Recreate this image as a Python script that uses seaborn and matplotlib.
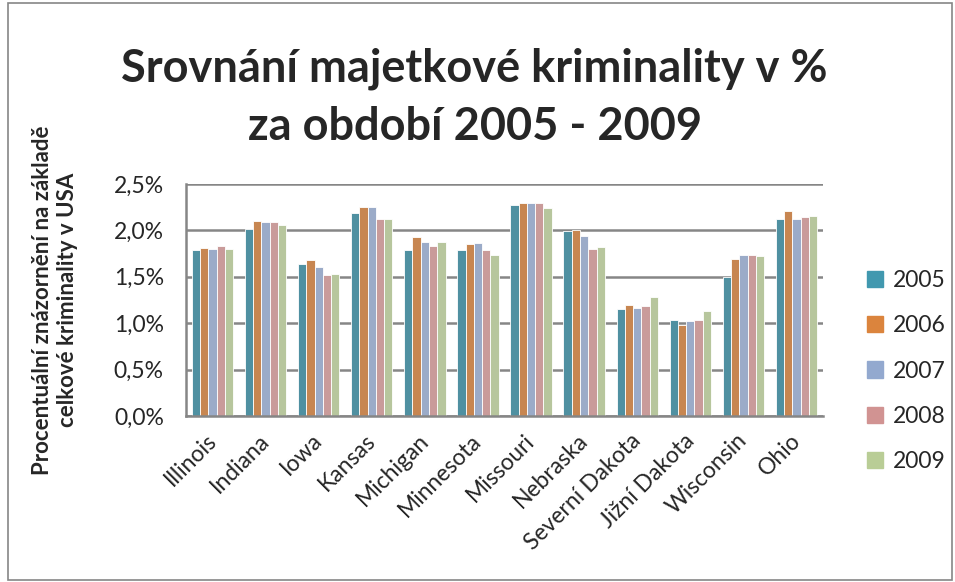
import matplotlib
matplotlib.use("Agg")
import matplotlib.pyplot as plt
import matplotlib.patches as mpatches
import matplotlib.transforms as mtransforms
from matplotlib.ticker import FixedLocator, FuncFormatter
import seaborn as sns
import pandas as pd

states = ["Illinois", "Indiana", "Iowa", "Kansas", "Michigan", "Minnesota",
          "Missouri", "Nebraska", "Severní Dakota", "Jižní Dakota",
          "Wisconsin", "Ohio"]
years = ["2005", "2006", "2007", "2008", "2009"]

# share of total US property crime, in %
v2005 = [1.79, 2.01, 1.64, 2.19, 1.79, 1.79, 2.27, 1.99, 1.15, 1.03, 1.50, 2.12]
v2006 = [1.81, 2.10, 1.68, 2.25, 1.93, 1.85, 2.30, 2.00, 1.20, 0.98, 1.69, 2.21]
v2007 = [1.80, 2.09, 1.61, 2.25, 1.88, 1.86, 2.30, 1.94, 1.16, 1.02, 1.74, 2.12]
v2008 = [1.83, 2.09, 1.52, 2.12, 1.83, 1.79, 2.30, 1.80, 1.19, 1.03, 1.73, 2.14]
v2009 = [1.80, 2.06, 1.53, 2.12, 1.87, 1.74, 2.24, 1.82, 1.28, 1.13, 1.72, 2.16]

colors = ["#4198AF", "#DB843D", "#93A9CF", "#D19392", "#B9CD96"]

rows = []
for year, vals in zip(years, [v2005, v2006, v2007, v2008, v2009]):
    for st, v in zip(states, vals):
        rows.append({"stat": st, "rok": year, "hodnota": v})
df = pd.DataFrame(rows)

sns.set_style("white")
plt.rcParams["font.family"] = ["Lato", "DejaVu Sans"]

fig = plt.figure(figsize=(9.55, 5.82), dpi=100)
ax = fig.add_axes([186 / 955, (582 - 416) / 582, 637 / 955, 232 / 582])

sns.barplot(data=df, x="stat", y="hodnota", hue="rok", palette=colors,
            width=0.78, ax=ax, edgecolor="white", linewidth=0.6,
            legend=False, errorbar=None)

ax.set_xlim(-0.5, len(states) - 0.5)
ax.set_ylim(0, 2.5)
ax.set_yticks([0, 0.5, 1.0, 1.5, 2.0, 2.5])
ax.yaxis.set_major_formatter(FuncFormatter(lambda v, p: f"{v:.1f}%".replace(".", ",")))
ax.grid(axis="y", color="#868686", linewidth=1.8)
ax.set_axisbelow(True)

for side in ["top", "right"]:
    ax.spines[side].set_visible(False)
for side in ["left", "bottom"]:
    ax.spines[side].set_color("#868686")
    ax.spines[side].set_linewidth(1.8)

ax.xaxis.set_minor_locator(FixedLocator([i - 0.5 for i in range(len(states) + 1)]))
ax.tick_params(axis="x", which="major", length=0, pad=10)
ax.tick_params(axis="x", which="minor", length=7, width=1.8, color="#868686")
ax.tick_params(axis="y", which="major", length=6, width=1.8, color="#868686",
               labelsize=16.5, pad=10)
shift = mtransforms.ScaledTranslation(-7 / 100, 0, fig.dpi_scale_trans)
for lbl in ax.get_xticklabels():
    lbl.set_rotation(45)
    lbl.set_ha("right")
    lbl.set_rotation_mode("anchor")
    lbl.set_fontsize(16.5)
    lbl.set_transform(lbl.get_transform() + shift)

ax.set_xlabel("")
ax.set_ylabel("Procentuální znázornění na základě\ncelkové kriminality v USA",
              fontsize=16, fontweight="bold", labelpad=26, linespacing=1.2)

fig.text(0.497, 0.832, "Srovnání majetkové kriminality v %\nza období 2005 - 2009",
         ha="center", va="center", fontsize=32.5, fontweight="bold",
         linespacing=1.45)

handles = [mpatches.Patch(color=c, label=y) for c, y in zip(colors, years)]
fig.legend(handles=handles, loc="center left", bbox_to_anchor=(0.886, 0.3625),
           frameon=False, fontsize=16.5, handlelength=0.7, handleheight=0.7,
           handletextpad=0.45, labelspacing=1.05)

fig.patches.append(mpatches.Rectangle((8 / 955, 2 / 582), 944 / 955, 577 / 582,
                                      transform=fig.transFigure, fill=False,
                                      edgecolor="#868686", linewidth=1.2))

fig.savefig("out.png", dpi=100)
